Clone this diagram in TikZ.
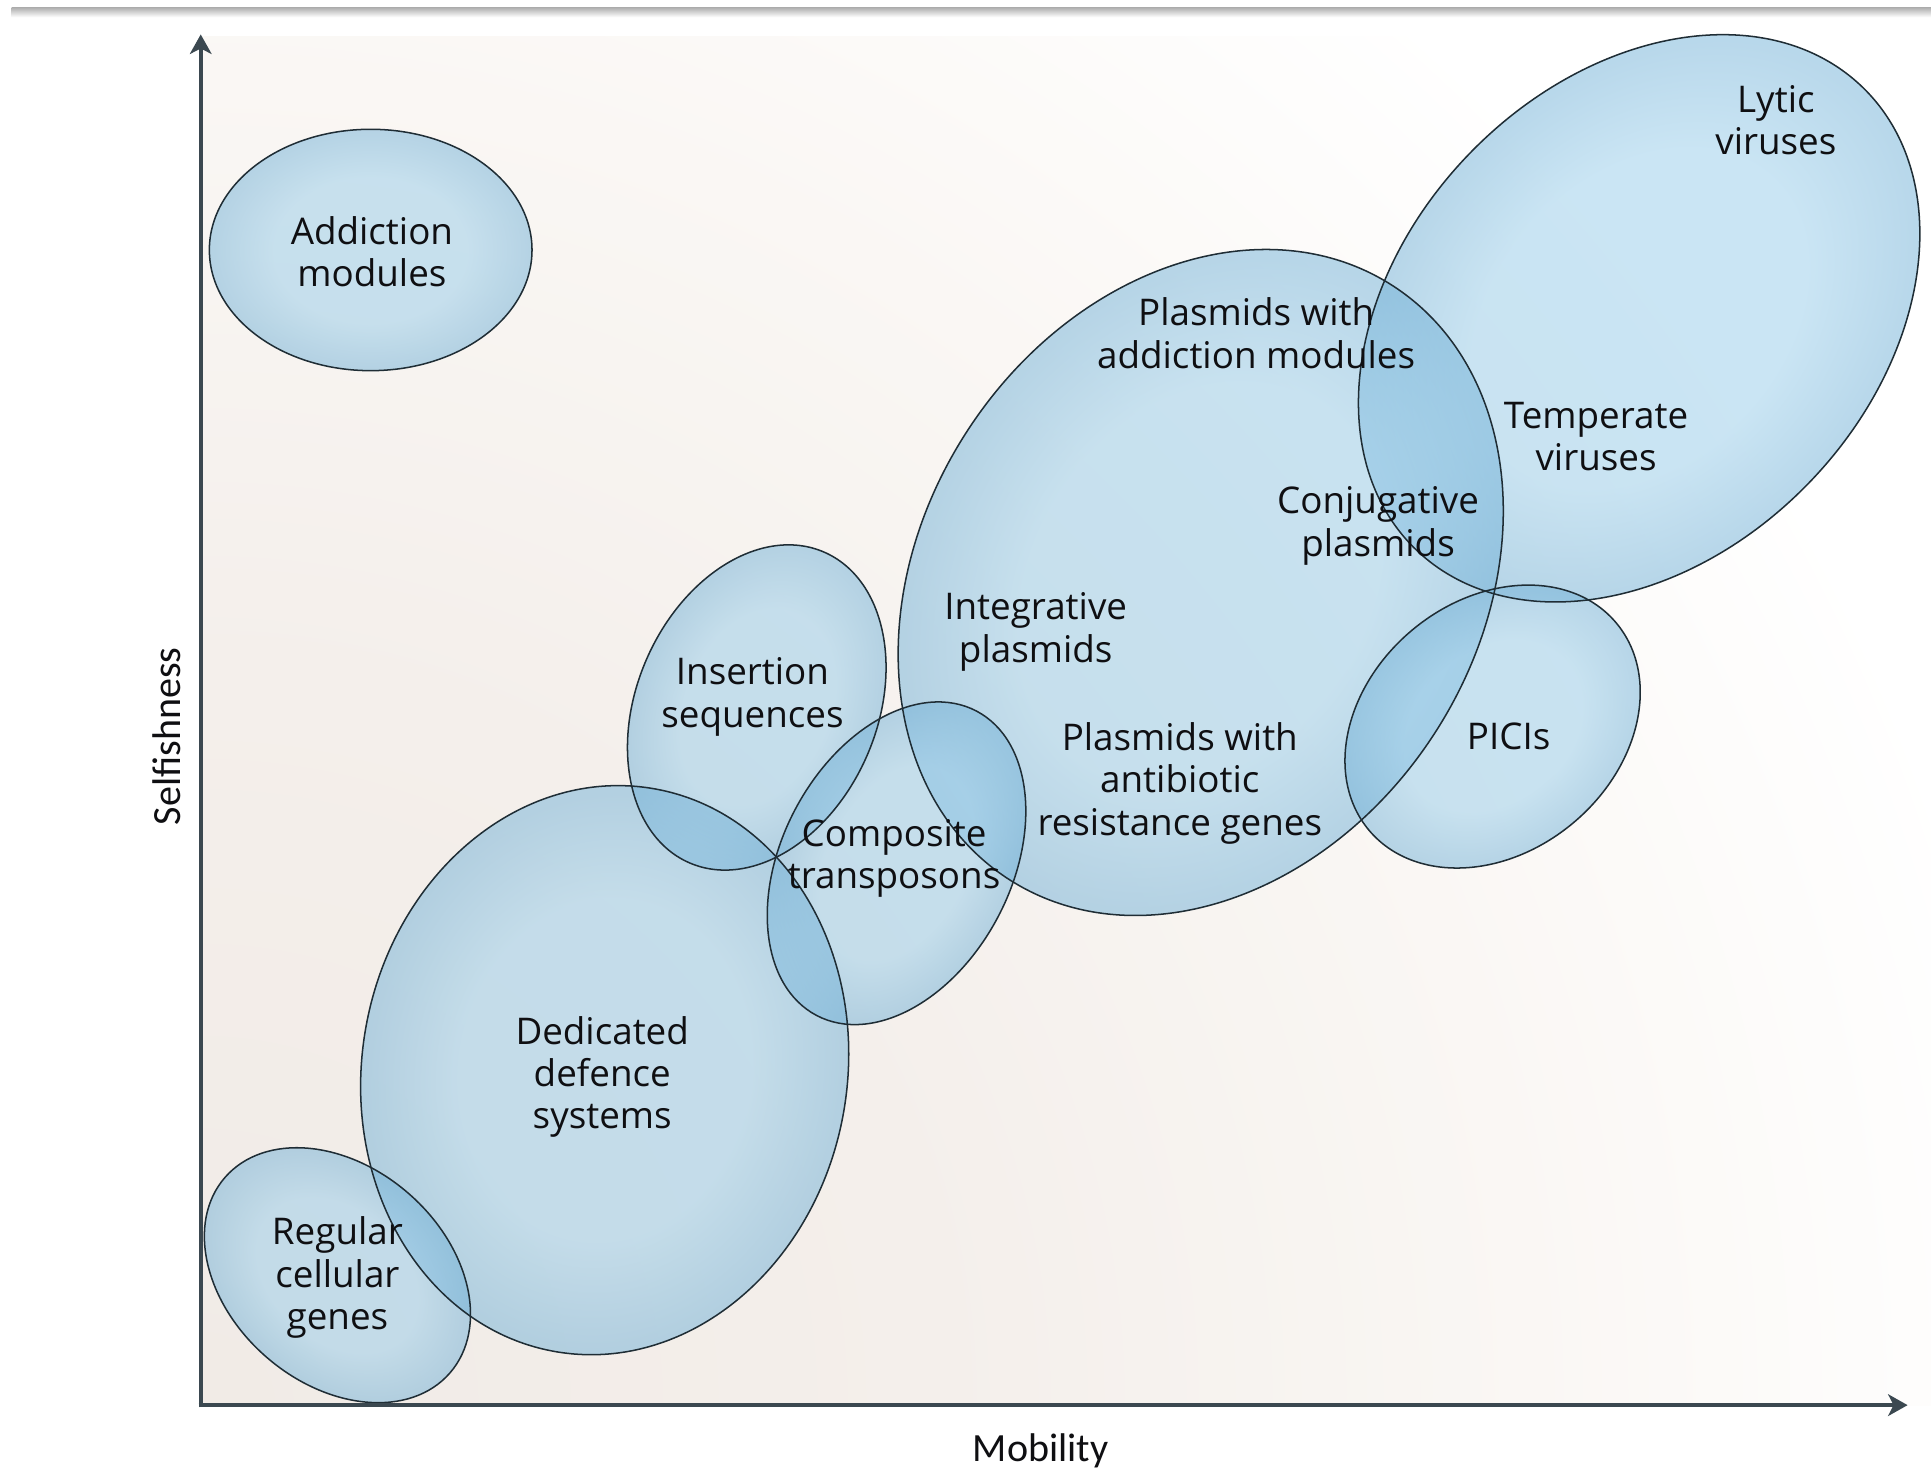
\documentclass[tikz,border=0pt]{standalone}
\usepackage{fontspec}
\setmainfont{Open Sans}
\newfontfamily\axisfont{Carlito}
\usetikzlibrary{arrows.meta}
\definecolor{blobin}{RGB}{150,204,234}
\definecolor{blobout}{RGB}{115,178,216}
\definecolor{rimcol}{RGB}{31,45,53}
\definecolor{axiscol}{RGB}{59,72,80}
\definecolor{bgA}{RGB}{241,235,230}
\definecolor{bgB}{RGB}{244,239,235}
\definecolor{bgC}{RGB}{250,247,244}
\definecolor{txtcol}{RGB}{15,15,18}
\pgfdeclareradialshading{blobshade}{\pgfpoint{0bp}{0bp}}{color(0bp)=(blobin); color(15bp)=(blobin); color(24.5bp)=(blobout); color(25bp)=(blobout); color(50bp)=(blobout)}
\pgfdeclareradialshading{bgshade}{\pgfpoint{0bp}{0bp}}{color(0bp)=(bgA); color(10bp)=(bgB); color(18bp)=(bgC); color(25bp)=(white); color(50bp)=(white)}
\tikzset{
  blob/.style={shading=blobshade, fill opacity=0.5},
  rim/.style={draw=rimcol, line width=0.7pt},
  lbl/.style={align=center, font=\fontsize{17}{19.6}\selectfont, inner sep=0pt, text=txtcol},
  axislbl/.style={font=\axisfont\fontsize{18.5}{22}\selectfont, inner sep=0pt, text=txtcol},
  axisline/.style={draw=axiscol, line width=2pt, shorten <=-1pt, -{Stealth[length=9pt,width=10pt,inset=2.5pt]}}
}
\newcommand\myblob[5]{\shade[blob, transform canvas={rotate around={#3:(#1,#2)}}] (#1,#2) ellipse [x radius=#4, y radius=#5];}
\newcommand\myrim[5]{\draw[rim, rotate around={#3:(#1,#2)}] (#1,#2) ellipse [x radius=#4, y radius=#5];}
\begin{document}
\begin{tikzpicture}[x=0.02cm, y=0.02cm]
\useasboundingbox (0,0) rectangle (1568,1195);
\fill[white] (0,0) rectangle (1568,1195);
% top shadow band
\shade[top color=black!30, bottom color=white] (9.5,1181) rectangle (1568,1188.5);
% background gradient
\begin{scope}
  \clip (163,54) rectangle (1568,1165);
  \shade[shading=bgshade] (163,54) circle [radius=1500];
\end{scope}
% ellipse fills
\myblob{301}{992}{0}{131}{98}
\myblob{1331}{936.5}{46}{261}{192}
\myblob{975}{722}{57}{287}{226}
\myblob{614.5}{620.5}{66.6}{137.5}{97.7}
\myblob{728}{494}{62.3}{139.6}{93.2}
\myblob{491}{326}{80}{232}{197}
\myblob{274}{159.5}{-41}{121}{88}
\myblob{1212}{605}{40}{131}{102}
% ellipse outlines
\myrim{301}{992}{0}{131}{98}
\myrim{1331}{936.5}{46}{261}{192}
\myrim{975}{722}{57}{287}{226}
\myrim{614.5}{620.5}{66.6}{137.5}{97.7}
\myrim{728}{494}{62.3}{139.6}{93.2}
\myrim{491}{326}{80}{232}{197}
\myrim{274}{159.5}{-41}{121}{88}
\myrim{1212}{605}{40}{131}{102}
% axes
\coordinate (O) at (163,54);
\coordinate (Ytop) at (163,1167);
\coordinate (Xend) at (1549,54);
\draw[axisline] (O) -- (Ytop);
\draw[axisline] (O) -- (Xend);
% labels
\node[lbl] (addiction) at (302,990.5) {Addiction\\modules};
\node[lbl] (lytic) at (1442,1097.5) {Lytic\\viruses};
\node[lbl] (plasadd) at (1020,924.5) {Plasmids with\\addiction modules};
\node[lbl] (temperate) at (1296,840.5) {Temperate\\viruses};
\node[lbl] (conjugative) at (1119,768) {Conjugative\\plasmids};
\node[lbl] (integrative) at (841,682) {Integrative\\plasmids};
\node[lbl] (insertion) at (611,629) {Insertion\\sequences};
\node[lbl] (picis) at (1225,597) {PICIs};
\node[lbl] (plasanti) at (958,559) {Plasmids with\\antibiotic\\resistance genes};
\node[lbl] (composite) at (726,498) {Composite\\transposons};
\node[lbl] (dedicated) at (489,320.5) {Dedicated\\defence\\systems};
\node[lbl] (regular) at (274,157.5) {Regular\\cellular\\genes};
\node[axislbl, rotate=90] (selfish) at (135,597) {Selfishness};
\node[axislbl] (mobility) at (845,17) {Mobility};
\end{tikzpicture}
\end{document}
